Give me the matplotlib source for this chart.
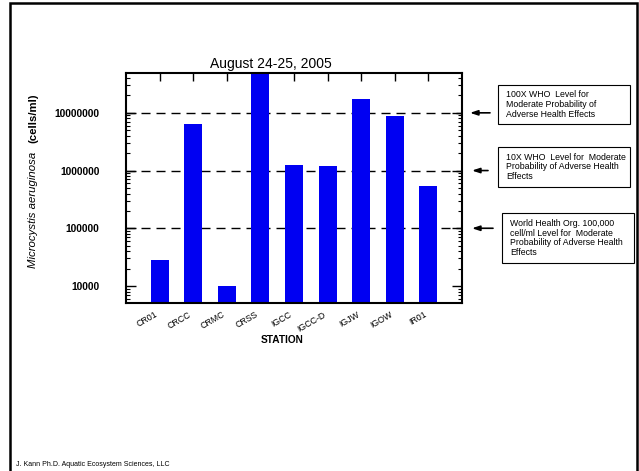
import matplotlib
matplotlib.use("Agg")
import matplotlib.pyplot as plt
from matplotlib.patches import Rectangle
from matplotlib.transforms import ScaledTranslation
from matplotlib.ticker import LogLocator, NullFormatter, FixedLocator, FixedFormatter
import numpy as np

plt.rcParams['font.family'] = ['Liberation Sans', 'DejaVu Sans']

stations = ["CR01", "CRCC", "CRMC", "CRSS", "IGCC", "IGCC-D", "IGJW", "IGOW", "IR01"]
cells_per_ml = [28000, 6400000, 10000, 50000000, 1270000, 1180000, 17500000, 8900000, 530000]

ytick_values = [10000, 100000, 1000000, 10000000]
ytick_labels = ["10000", "100000", "1000000", "10000000"]

threshold_levels = [10000000, 1000000, 100000]
threshold_notes = [
    "100X WHO  Level for\nModerate Probability of\nAdverse Health Effects",
    "10X WHO  Level for  Moderate\nProbability of Adverse Health\nEffects",
    "World Health Org. 100,000\ncell/ml Level for  Moderate\nProbability of Adverse Health\nEffects",
]

W, H = 639, 471
fig = plt.figure(figsize=(W / 100, H / 100), dpi=100)


def fx(px):
    return px / W


def fy(py):
    return 1 - py / H


# page frame
fig.patches.append(Rectangle((fx(10), -0.05), fx(637) - fx(10), fy(3) + 0.05,
                             transform=fig.transFigure, fill=False,
                             edgecolor='black', linewidth=1.8, zorder=0))

ax = fig.add_axes([fx(126), fy(303), fx(462) - fx(126), fy(73) - fy(303)])
x = np.arange(len(stations))
ax.bar(x, cells_per_ml, width=0.54, color='#0000F2', zorder=2)
ax.set_yscale('log')
ax.set_ylim(5070, 4.9e7)
ax.set_xlim(-1, 9)

for lvl in threshold_levels:
    ax.axhline(lvl, color='black', lw=1.0, linestyle=(0, (6.5, 4.3)), zorder=1)

for s in ax.spines.values():
    s.set_linewidth(1.5)

ax.yaxis.set_major_locator(FixedLocator(ytick_values))
ax.yaxis.set_major_formatter(FixedFormatter(ytick_labels))
ax.yaxis.set_minor_locator(LogLocator(base=10, subs=np.arange(2, 10)))
ax.yaxis.set_minor_formatter(NullFormatter())
ax.tick_params(axis='y', which='major', direction='in', length=7, width=1.0,
               left=True, right=True, pad=19, labelsize=7.4)
ax.tick_params(axis='y', which='minor', direction='in', length=3, width=0.8,
               left=True, right=True)
for lab in ax.get_yticklabels():
    lab.set_fontweight('bold')

ax.set_xticks(x)
ax.set_xticklabels(stations, rotation=30, ha='right', rotation_mode='anchor',
                   fontsize=6.3)
ax.tick_params(axis='x', direction='in', length=6, width=1.0, top=True,
               bottom=True, pad=5)
shift = ScaledTranslation(-0.05, 0.0, fig.dpi_scale_trans)
for lab in ax.get_xticklabels():
    lab.set_transform(lab.get_transform() + shift)

fig.text(fx(271), fy(71), "August 24-25, 2005", ha='center', va='bottom',
         fontsize=10)
fig.text(fx(282), fy(340), "STATION", ha='center', va='center', fontsize=7.3,
         fontweight='bold')

fig.text(fx(33), fy(268), "Microcystis aeruginosa", rotation=90, ha='center',
         va='bottom', fontsize=8.2, style='italic')
fig.text(fx(33), fy(143), "(cells/ml)", rotation=90, ha='center',
         va='bottom', fontsize=8.2, fontweight='bold')

# threshold notes with arrows
boxes = [((498, 85), (630, 124), 506),
         ((498, 147), (630, 187), 506),
         ((502, 213), (634, 263), 510)]
arrow_x = [(490, 470), (488, 472), (493, 472)]
for lvl, note, ((x0, y0), (x1, y1), tx), (ax0, ax1) in zip(
        threshold_levels, threshold_notes, boxes, arrow_x):
    fig.patches.append(Rectangle((fx(x0), fy(y1)), fx(x1) - fx(x0), fy(y0) - fy(y1),
                                 transform=fig.transFigure, fill=False,
                                 edgecolor='black', linewidth=0.8))
    fig.text(fx(tx), (fy(y0) + fy(y1)) / 2, note, ha='left', va='center',
             fontsize=6.3, linespacing=1.12)
    ax.annotate("", xy=(fx(ax1), lvl), xytext=(fx(ax0), lvl),
                xycoords=('figure fraction', 'data'),
                textcoords=('figure fraction', 'data'),
                arrowprops=dict(arrowstyle='-|>,head_length=0.45,head_width=0.15',
                                color='black', lw=1.2, shrinkA=0, shrinkB=0),
                annotation_clip=False)

fig.text(fx(16), fy(464), "J. Kann Ph.D. Aquatic Ecosystem Sciences, LLC",
         ha='left', va='center', fontsize=5)

fig.savefig("out.png", dpi=100)
